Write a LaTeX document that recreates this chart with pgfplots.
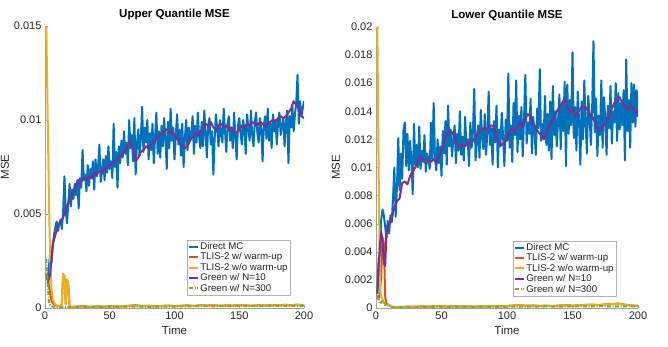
\documentclass[border=0pt]{standalone}
\usepackage{fontspec}
\setmainfont{Liberation Sans}
\usepackage{pgfplots}
\pgfplotsset{compat=1.18}

\definecolor{mblue}{HTML}{0072BD}
\definecolor{morange}{HTML}{D95319}
\definecolor{myellow}{HTML}{EDB120}
\definecolor{mpurple}{HTML}{7E2F8E}
\definecolor{mgreen}{HTML}{77AC30}
\definecolor{mtext}{HTML}{262626}

\pgfplotsset{
  mse/.style={
    scale only axis, width=259pt, height=282pt,
    xmin=0, xmax=200, ymin=0,
    xtick={0,50,100,150,200},
    axis x line*=bottom, axis y line*=left,
    axis line style={-, gray!75},
    tick align=inside, major tick length=3pt,
    tick style={gray!75},
    every tick label/.append style={font=\fontsize{11}{12}\selectfont, text=mtext},
    /pgf/number format/assume math mode=true,
    scaled y ticks=false,
    yticklabel style={/pgf/number format/fixed, /pgf/number format/precision=3},
    xlabel={Time}, ylabel={MSE},
    label style={font=\fontsize{11.5}{12}\selectfont, text=mtext},
    title style={font=\bfseries\fontsize{11.5}{12}\selectfont, yshift=-3pt},
    legend cell align=left,
    legend style={font=\fontsize{9.7}{11}\selectfont, draw=gray!60, inner sep=1pt,
      row sep=-0.5pt, nodes={inner sep=1.2pt}, text=mtext},
    legend image code/.code={\draw[#1] (0pt,0pt) -- (9pt,0pt);},
  },
  ln/.style={line width=2pt, line join=round},
  ddot/.style={ln, dash pattern=on 4pt off 1.5pt on 1pt off 1.5pt},
}

\begin{document}
\begin{tikzpicture}
\path[use as bounding box] (0,0) rectangle (668pt,347pt);

% ---------------- Upper quantile ----------------
\begin{axis}[mse, at={(45pt,39pt)}, anchor=south west,
  ymax=0.015, ytick={0,0.005,0.01,0.015},
  ylabel style={yshift=-2pt},
  title={Upper Quantile MSE},
  legend style={at={(0.946,0.046)}, anchor=south east}]
\addplot[mblue, ln] coordinates {
(1,0.0018)(2,0.0015)(3,0.0022)(4,0.0029)(5,0.0024)(6,0.0033)(7,0.0039)(8,0.0043)(9,0.0046)(10,0.0041)
(11,0.0045)(12,0.0047)(13,0.0042)(14,0.0051)(15,0.0070)(16,0.0052)(17,0.0045)(18,0.0056)(19,0.0066)(20,0.0054)
(21,0.0063)(22,0.0058)(23,0.0066)(24,0.0060)(25,0.0068)(26,0.0053)(27,0.0069)(28,0.0064)(29,0.0084)(30,0.0068)
(31,0.0071)(32,0.0062)(33,0.0076)(34,0.0065)(35,0.0074)(36,0.0069)(37,0.0078)(38,0.0063)(39,0.0079)(40,0.0070)
(41,0.0075)(42,0.0087)(43,0.0067)(44,0.0073)(45,0.0079)(46,0.0068)(47,0.0081)(48,0.0072)(49,0.0086)(50,0.0074)
(51,0.0078)(52,0.0069)(53,0.0098)(54,0.0075)(55,0.0083)(56,0.0064)(57,0.0086)(58,0.0077)(59,0.0089)(60,0.0080)
(61,0.0094)(62,0.0082)(63,0.0088)(64,0.0076)(65,0.0100)(66,0.0085)(67,0.0092)(68,0.0078)(69,0.0101)(70,0.0071)
(71,0.0087)(72,0.0095)(73,0.0081)(74,0.0090)(75,0.0107)(76,0.0083)(77,0.0096)(78,0.0088)(79,0.0100)(80,0.0079)
(81,0.0093)(82,0.0084)(83,0.0098)(84,0.0077)(85,0.0091)(86,0.0104)(87,0.0082)(88,0.0094)(89,0.0080)(90,0.0097)
(91,0.0086)(92,0.0101)(93,0.0090)(94,0.0074)(95,0.0099)(96,0.0085)(97,0.0106)(98,0.0089)(99,0.0096)(100,0.0079)
(101,0.0092)(102,0.0103)(103,0.0087)(104,0.0095)(105,0.0081)(106,0.0098)(107,0.0075)(108,0.0090)(109,0.0100)(110,0.0084)
(111,0.0096)(112,0.0089)(113,0.0093)(114,0.0102)(115,0.0082)(116,0.0097)(117,0.0088)(118,0.0104)(119,0.0091)(120,0.0085)
(121,0.0099)(122,0.0086)(123,0.0105)(124,0.0093)(125,0.0080)(126,0.0097)(127,0.0101)(128,0.0087)(129,0.0094)(130,0.0071)
(131,0.0090)(132,0.0103)(133,0.0095)(134,0.0086)(135,0.0100)(136,0.0092)(137,0.0088)(138,0.0106)(139,0.0094)(140,0.0083)
(141,0.0098)(142,0.0102)(143,0.0089)(144,0.0096)(145,0.0085)(146,0.0104)(147,0.0091)(148,0.0079)(149,0.0097)(150,0.0101)
(151,0.0093)(152,0.0087)(153,0.0100)(154,0.0095)(155,0.0082)(156,0.0103)(157,0.0096)(158,0.0089)(159,0.0105)(160,0.0092)
(161,0.0086)(162,0.0099)(163,0.0104)(164,0.0093)(165,0.0088)(166,0.0101)(167,0.0095)(168,0.0078)(169,0.0097)(170,0.0102)
(171,0.0090)(172,0.0106)(173,0.0089)(174,0.0098)(175,0.0085)(176,0.0103)(177,0.0094)(178,0.0100)(179,0.0087)(180,0.0099)
(181,0.0104)(182,0.0092)(183,0.0097)(184,0.0101)(185,0.0086)(186,0.0099)(187,0.0105)(188,0.0077)(189,0.0102)(190,0.0096)
(191,0.0108)(192,0.0094)(193,0.0103)(194,0.0109)(195,0.0124)(196,0.0098)(197,0.0110)(198,0.0102)(199,0.0106)(200,0.0110)
};
\addlegendentry{Direct MC}
\addplot[morange, ln] coordinates {
(1,0.0018)(2,0.0016)(3,0.0012)(4,0.0008)(5,0.0004)(6,0.00025)(7,0.0002)(8,0.00015)(10,0.0001)(12,0.0001)
(13,0.0002)(14,0.0018)(15,0.0017)(16,0.0002)(17,0.0015)(18,0.0012)(19,0.0001)(20,0.00006)
(25,0.00008)(30,0.0001)(35,0.00006)(40,0.00009)(45,0.00007)(50,0.0001)(55,0.00008)(60,0.00009)(65,0.00012)(70,0.00015)
(75,0.0001)(80,0.00012)(85,0.00009)(90,0.00011)(95,0.00013)(100,0.0001)(105,0.00012)(110,0.00014)(115,0.00011)(120,0.00015)
(125,0.00013)(130,0.00016)(135,0.00012)(140,0.00014)(145,0.00013)(150,0.00016)(155,0.00014)(160,0.00012)(165,0.00015)(170,0.00013)
(175,0.00016)(180,0.00014)(185,0.00017)(190,0.00015)(195,0.00018)(200,0.00014)
};
\addlegendentry{TLIS-2 w/ warm-up}
\addplot[myellow, ln] coordinates {
(1,0.0150)(2,0.0105)(3,0.0060)(4,0.0025)(5,0.0010)(6,0.0005)(7,0.0003)(8,0.0002)(9,0.00015)(10,0.0001)(12,0.0001)
(13,0.0002)(14,0.0018)(15,0.0017)(16,0.0002)(17,0.0015)(18,0.0012)(19,0.0001)(20,0.00005)
(25,0.00007)(30,0.00009)(35,0.00006)(40,0.00008)(45,0.00006)(50,0.00009)(55,0.00007)(60,0.00008)(65,0.0001)(70,0.00013)
(75,0.00009)(80,0.00011)(85,0.00008)(90,0.0001)(95,0.00012)(100,0.00009)(105,0.00011)(110,0.00013)(115,0.0001)(120,0.00014)
(125,0.00012)(130,0.00015)(135,0.00011)(140,0.00013)(145,0.00012)(150,0.00015)(155,0.00013)(160,0.00011)(165,0.00014)(170,0.00012)
(175,0.00015)(180,0.00013)(185,0.00016)(190,0.00014)(195,0.00017)(200,0.00013)
};
\addlegendentry{TLIS-2 w/o warm-up}
\addplot[mpurple, ln] coordinates {
(2,0.0013)(4,0.0018)(6,0.0034)(8,0.0039)(10,0.0043)(12,0.0046)(14,0.0048)(16,0.0053)(18,0.0056)(20,0.0060)
(22,0.0062)(24,0.0066)(26,0.0068)(28,0.0067)(30,0.0069)(32,0.0068)(34,0.0070)(36,0.0069)(38,0.0072)(40,0.0071)
(42,0.0073)(44,0.0072)(46,0.0074)(48,0.0075)(50,0.0076)(52,0.0077)(54,0.0078)(56,0.0079)(58,0.0081)(60,0.0082)
(62,0.0084)(64,0.0086)(66,0.0089)(68,0.0085)(70,0.0078)(72,0.0080)(74,0.0083)(76,0.0084)(78,0.0086)(80,0.0085)
(82,0.0087)(84,0.0088)(86,0.0090)(88,0.0091)(90,0.0093)(92,0.0094)(94,0.0095)(96,0.0093)(98,0.0094)(100,0.0092)
(102,0.0090)(104,0.0088)(106,0.0086)(108,0.0085)(110,0.0086)(112,0.0089)(114,0.0091)(116,0.0093)(118,0.0092)(120,0.0094)
(122,0.0096)(124,0.0098)(126,0.0097)(128,0.0099)(130,0.0096)(132,0.0095)(134,0.0097)(136,0.0098)(138,0.0096)(140,0.0097)
(142,0.0095)(144,0.0096)(146,0.0094)(148,0.0093)(150,0.0095)(152,0.0097)(154,0.0096)(156,0.0098)(158,0.0097)(160,0.0099)
(162,0.0098)(164,0.0097)(166,0.0099)(168,0.0098)(170,0.0097)(172,0.0098)(174,0.0099)(176,0.0100)(178,0.0099)(180,0.0101)
(182,0.0102)(184,0.0101)(186,0.0102)(188,0.0104)(190,0.0106)(192,0.0110)(194,0.0108)(196,0.0106)(198,0.0102)(200,0.0101)
};
\addlegendentry{Green w/ N=10}
\addplot[mgreen, ddot] coordinates {
(1,0.0026)(2,0.0014)(3,0.0003)(4,0.00015)(5,0.0001)(8,0.00005)(12,0.00004)(16,0.00005)(20,0.00004)
(30,0.00005)(40,0.00006)(50,0.00005)(60,0.00007)(70,0.00008)(80,0.00006)(90,0.00007)(100,0.00008)
(110,0.00009)(120,0.0001)(130,0.00009)(140,0.0001)(150,0.00011)(160,0.0001)(170,0.00011)(180,0.00012)(190,0.00011)(200,0.00012)
};
\addlegendentry{Green w/ N=300}
\end{axis}

% ---------------- Lower quantile ----------------
\begin{axis}[mse, at={(376pt,39pt)}, anchor=south west, width=262pt, height=281pt,
  ymax=0.02, ytick={0,0.002,0.004,0.006,0.008,0.01,0.012,0.014,0.016,0.018,0.02},
  ylabel style={yshift=-2pt},
  title={Lower Quantile MSE},
  legend style={at={(0.916,0.043)}, anchor=south east}]
\addplot[mblue, ln] coordinates {
(1,0.0010)(2,0.0035)(3,0.0038)(4,0.0063)(5,0.0070)(6,0.0066)(7,0.0058)(8,0.0050)(9,0.0062)(10,0.0053)
(11,0.0066)(12,0.0061)(13,0.0078)(14,0.0100)(15,0.0065)(16,0.0086)(17,0.0121)(18,0.0084)(19,0.0110)(20,0.0092)
(21,0.0127)(22,0.0132)(23,0.0101)(24,0.0124)(25,0.0098)(26,0.0119)(27,0.0105)(28,0.0081)(29,0.0131)(30,0.0102)
(31,0.0116)(32,0.0100)(33,0.0129)(34,0.0099)(35,0.0112)(36,0.0104)(37,0.0123)(38,0.0097)(39,0.0110)(40,0.0106)
(41,0.0099)(42,0.0132)(43,0.0105)(44,0.0146)(45,0.0108)(46,0.0098)(47,0.0120)(48,0.0103)(49,0.0115)(50,0.0094)
(51,0.0126)(52,0.0110)(53,0.0133)(54,0.0102)(55,0.0144)(56,0.0115)(57,0.0127)(58,0.0108)(59,0.0119)(60,0.0130)
(61,0.0103)(62,0.0124)(63,0.0112)(64,0.0140)(65,0.0109)(66,0.0122)(67,0.0105)(68,0.0136)(69,0.0116)(70,0.0120)
(71,0.0101)(72,0.0132)(73,0.0114)(74,0.0126)(75,0.0156)(76,0.0105)(77,0.0119)(78,0.0130)(79,0.0107)(80,0.0141)
(81,0.0121)(82,0.0113)(83,0.0138)(84,0.0109)(85,0.0125)(86,0.0154)(87,0.0116)(88,0.0128)(89,0.0102)(90,0.0133)
(91,0.0118)(92,0.0144)(93,0.0100)(94,0.0127)(95,0.0115)(96,0.0139)(97,0.0122)(98,0.0101)(99,0.0134)(100,0.0119)
(101,0.0167)(102,0.0114)(103,0.0130)(104,0.0104)(105,0.0146)(106,0.0123)(107,0.0162)(108,0.0111)(109,0.0137)(110,0.0120)
(111,0.0143)(112,0.0108)(113,0.0135)(114,0.0166)(115,0.0117)(116,0.0132)(117,0.0124)(118,0.0149)(119,0.0110)(120,0.0136)
(121,0.0125)(122,0.0109)(123,0.0142)(124,0.0128)(125,0.0170)(126,0.0119)(127,0.0131)(128,0.0122)(129,0.0151)(130,0.0116)
(131,0.0138)(132,0.0112)(133,0.0147)(134,0.0106)(135,0.0158)(136,0.0123)(137,0.0140)(138,0.0115)(139,0.0134)(140,0.0152)
(141,0.0113)(142,0.0145)(143,0.0126)(144,0.0161)(145,0.0101)(146,0.0159)(147,0.0124)(148,0.0148)(149,0.0130)(150,0.0182)
(151,0.0121)(152,0.0143)(153,0.0112)(154,0.0154)(155,0.0133)(156,0.0102)(157,0.0147)(158,0.0120)(159,0.0162)(160,0.0131)
(161,0.0110)(162,0.0151)(163,0.0138)(164,0.0116)(165,0.0142)(166,0.0190)(167,0.0125)(168,0.0149)(169,0.0108)(170,0.0137)
(171,0.0123)(172,0.0162)(173,0.0114)(174,0.0150)(175,0.0136)(176,0.0109)(177,0.0144)(178,0.0128)(179,0.0158)(180,0.0117)
(181,0.0140)(182,0.0132)(183,0.0160)(184,0.0119)(185,0.0153)(186,0.0127)(187,0.0146)(188,0.0130)(189,0.0155)(190,0.0105)
(191,0.0177)(192,0.0126)(193,0.0148)(194,0.0114)(195,0.0160)(196,0.0132)(197,0.0159)(198,0.0129)(199,0.0155)(200,0.0136)
};
\addlegendentry{Direct MC}
\addplot[morange, ln] coordinates {
(1,0.0009)(2,0.0007)(3,0.0010)(4,0.0025)(5,0.0050)(6,0.0046)(7,0.0008)(8,0.0003)(10,0.0002)(12,0.0001)(15,0.00006)
(20,0.00008)(25,0.0001)(30,0.00009)(35,0.00012)(40,0.0001)(45,0.00014)(50,0.00012)(55,0.0001)(60,0.00013)(65,0.00011)
(70,0.00012)(75,0.0001)(80,0.00013)(85,0.00011)(90,0.00014)(95,0.00012)(100,0.00015)(105,0.00018)(110,0.00021)(115,0.00016)
(120,0.00018)(125,0.00015)(130,0.00017)(135,0.00014)(140,0.00018)(145,0.0002)(150,0.00017)(155,0.00019)(160,0.00022)(165,0.00024)
(170,0.00021)(175,0.00026)(180,0.00028)(185,0.00032)(190,0.00024)(195,0.00018)(200,0.00016)
};
\addlegendentry{TLIS-2 w/ warm-up}
\addplot[myellow, ln] coordinates {
(1,0.0200)(2,0.0100)(3,0.0013)(4,0.0008)(5,0.0006)(6,0.0004)(7,0.0003)(8,0.0003)(10,0.0002)(12,0.0001)(15,0.00005)
(20,0.00007)(25,0.00009)(30,0.00008)(35,0.0001)(40,0.00009)(45,0.00012)(50,0.0001)(55,0.00009)(60,0.00011)(65,0.0001)
(70,0.00011)(75,0.00009)(80,0.00012)(85,0.0001)(90,0.00013)(95,0.00011)(100,0.00014)(105,0.00017)(110,0.0002)(115,0.00015)
(120,0.00017)(125,0.00014)(130,0.00016)(135,0.00013)(140,0.00017)(145,0.00019)(150,0.00016)(155,0.00018)(160,0.00021)(165,0.00023)
(170,0.0002)(175,0.00025)(180,0.00027)(185,0.0003)(190,0.00023)(195,0.00017)(200,0.00015)
};
\addlegendentry{TLIS-2 w/o warm-up}
\addplot[mpurple, ln] coordinates {
(1,0.0010)(2,0.0028)(3,0.0045)(4,0.0054)(5,0.0048)(6,0.0032)(7,0.0030)(8,0.0054)(9,0.0059)(10,0.0060)
(12,0.0063)(14,0.0072)(16,0.0076)(18,0.0078)(20,0.0089)(22,0.0090)(24,0.0088)(26,0.0094)(28,0.0097)(30,0.0100)
(32,0.0105)(34,0.0108)(36,0.0106)(38,0.0103)(40,0.0105)(42,0.0104)(44,0.0106)(46,0.0103)(48,0.0108)(50,0.0112)
(52,0.0118)(54,0.0124)(56,0.0126)(58,0.0125)(60,0.0122)(62,0.0117)(64,0.0114)(66,0.0116)(68,0.0115)(70,0.0118)
(72,0.0116)(74,0.0119)(76,0.0122)(78,0.0124)(80,0.0126)(82,0.0128)(84,0.0127)(86,0.0129)(88,0.0130)(90,0.0129)
(92,0.0122)(94,0.0117)(96,0.0116)(98,0.0118)(100,0.0120)(102,0.0126)(104,0.0128)(106,0.0125)(108,0.0129)(110,0.0132)
(112,0.0129)(114,0.0135)(116,0.0138)(118,0.0136)(120,0.0132)(122,0.0128)(124,0.0125)(126,0.0123)(128,0.0120)(130,0.0125)
(132,0.0129)(134,0.0132)(136,0.0136)(138,0.0140)(140,0.0143)(142,0.0146)(144,0.0149)(146,0.0143)(148,0.0139)(150,0.0141)
(152,0.0136)(154,0.0139)(156,0.0142)(158,0.0144)(160,0.0143)(162,0.0140)(164,0.0137)(166,0.0135)(168,0.0130)(170,0.0126)
(172,0.0128)(174,0.0130)(176,0.0133)(178,0.0136)(180,0.0142)(182,0.0146)(184,0.0148)(186,0.0150)(188,0.0146)(190,0.0144)
(192,0.0141)(194,0.0144)(196,0.0142)(198,0.0139)(200,0.0140)
};
\addlegendentry{Green w/ N=10}
\addplot[mgreen, ddot] coordinates {
(1,0.0008)(2,0.0006)(3,0.0003)(4,0.0004)(5,0.0005)(6,0.0004)(7,0.0002)(8,0.0003)(10,0.00015)(12,0.00005)
(20,0.00004)(30,0.00005)(40,0.00006)(50,0.00005)(60,0.00007)(70,0.00006)(80,0.00008)(90,0.00007)(100,0.00009)
(110,0.0001)(120,0.00009)(130,0.00011)(140,0.0001)(150,0.00012)(160,0.00011)(170,0.00013)(180,0.00012)(190,0.00011)(200,0.00012)
};
\addlegendentry{Green w/ N=300}
\end{axis}
\end{tikzpicture}
\end{document}
